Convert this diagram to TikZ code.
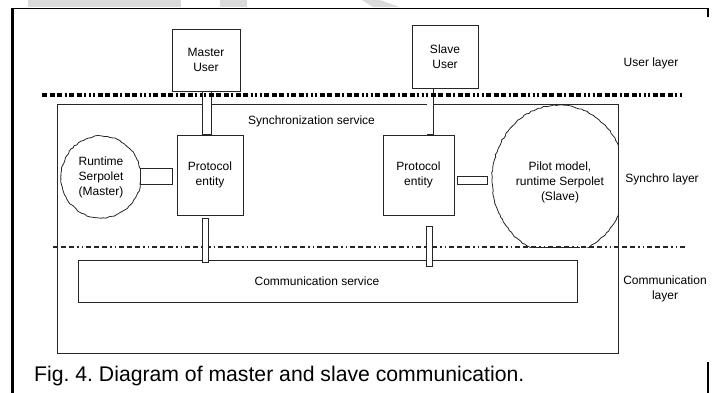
\documentclass[tikz,border=0pt]{standalone}
\usepackage{fontspec}
\setmainfont{Liberation Sans}
\usetikzlibrary{decorations.pathmorphing,calc,shapes.geometric}
\begin{document}
\frenchspacing
\pgfmathsetseed{7}
\begin{tikzpicture}[x=1pt,y=-1pt,
  ln/.style={draw=black!85,line width=0.8pt},
  box/.style={ln,rectangle,inner sep=0pt},
  txt/.style={font=\fontsize{12}{15}\selectfont,align=center,inner sep=0pt},
  blob/.style={ln,ellipse,inner sep=0pt,decorate,decoration={random steps,segment length=2.6pt,amplitude=0.6pt}},
  conn/.style 2 args={draw=black!85,line width=#1,postaction={draw=white,line width=#2,shorten <=0.8pt,shorten >=0.8pt}},
  userline/.style={line width=4pt,dash pattern=on 5pt off 2.5pt on 5pt off 2.5pt on 5pt off 2.5pt on 2pt off 2.5pt on 5pt off 2.5pt on 5pt off 2.5pt on 2pt off 2.5pt on 2pt off 2.5pt on 2pt off 2.5pt},
  commline/.style={draw=black!85,line width=1.3pt,dash pattern=on 5pt off 3pt on 5pt off 3pt on 5pt off 3pt on 1.5pt off 3pt on 1.5pt off 3pt}]
\useasboundingbox (0,0) rectangle (720,393);
% watermark
\fill[black!14] (28,0) rectangle (181,7.2);
\fill[black!14] (220,0) rectangle (247,7.2);
\fill[black!14] (362,0) -- (380,0) -- (400,7.2) -- (373,7.2) -- cycle;
% outer frame
\draw[line width=1.8pt] (11.5,8.5) -- (709,8.5);
\draw[line width=2.7pt] (12.5,7.6) -- (12.5,393);
\draw[line width=2pt] (708,7.6) -- (708,17);
\draw[line width=2pt] (708,362) -- (708,393);
% main boxes
\node[box,minimum width=561pt,minimum height=249pt] (sync) at (337.5,228.5) {};
\node[box,minimum width=68pt,minimum height=62pt,txt] (mu) at (206,60) {Master\\User};
\node[box,minimum width=66pt,minimum height=63pt,txt] (su) at (445,56.5) {Slave\\User};
\node[box,minimum width=66pt,minimum height=80pt,txt] (mpe) at (210,175) {Protocol\\entity};
\node[box,minimum width=71pt,minimum height=80pt,txt] (spe) at (418.5,175) {Protocol\\entity};
\node[box,minimum width=499pt,minimum height=42pt] (comm) at (327.5,281) {};
\node[txt] (commtxt) at (317,281) {Communication service};
\node[txt] (synctxt) at (311.5,121) {Synchronization service};
% blobs
\node[blob,minimum width=80pt,minimum height=82pt] (mblob) at (101,177) {};
\node[txt] (mblobtxt) at (101,177) {Runtime\\Serpolet\\(Master)};
\begin{scope}
\clip (470,100) rectangle (618,247);
\node[blob,minimum width=134pt,minimum height=150pt] (sblob) at (559,180) {};
\end{scope}
\draw[ln] (533,247) -- (580,247);
\node[txt] (sblobtxt) at (560,182) {Pilot model,\\runtime Serpolet\\(Slave)};
% layer labels
\node[txt] (ul) at (651,63) {User layer};
\node[txt] (sl) at (662,179) {Synchro layer};
\node[txt] (cl) at (665,289) {Communication\\layer};
% layer lines
\coordinate (u1) at (42,95);
\coordinate (u2) at (682,95);
\coordinate (c1) at (53,247);
\coordinate (c2) at (685,247);
\draw[commline] (c1) -- (c2);
% connectors
\coordinate (xa) at (207,0);
\coordinate (xb) at (430,0);
\coordinate (xc) at (205.5,0);
\coordinate (xd) at (429.5,0);
\draw[conn={10pt}{8.4pt}] (xa |- mu.south) -- (xa |- mpe.north);
\draw[conn={7pt}{5.4pt}] (xb |- su.south) -- (xb |- spe.north);
\draw[conn={7.5pt}{5.9pt}] ($(xc |- mpe.south)+(0,3)$) -- ($(xc |- comm.north)+(0,3)$);
\draw[conn={7pt}{5.4pt}] ($(xd |- spe.south)+(0,11)$) -- ($(xd |- comm.north)+(0,7)$);
\draw[conn={17pt}{15.4pt}] ($(mblob.east)+(-1,-0.5)$) -- ($(mblob.east -| mpe.west)+(-4,-0.5)$);
\draw[conn={9pt}{7.4pt}] ($(spe.east)+(3,5.5)$) -- ($(spe.east -| sblob.west)+(-4,5.5)$);
\draw[userline] (u1) -- (u2);
% caption
\node[font=\fontsize{21.2}{24}\selectfont,anchor=base west,inner sep=0pt] (cap) at (34,381) {Fig. 4. Diagram of master and slave communication.};
\end{tikzpicture}
\end{document}
